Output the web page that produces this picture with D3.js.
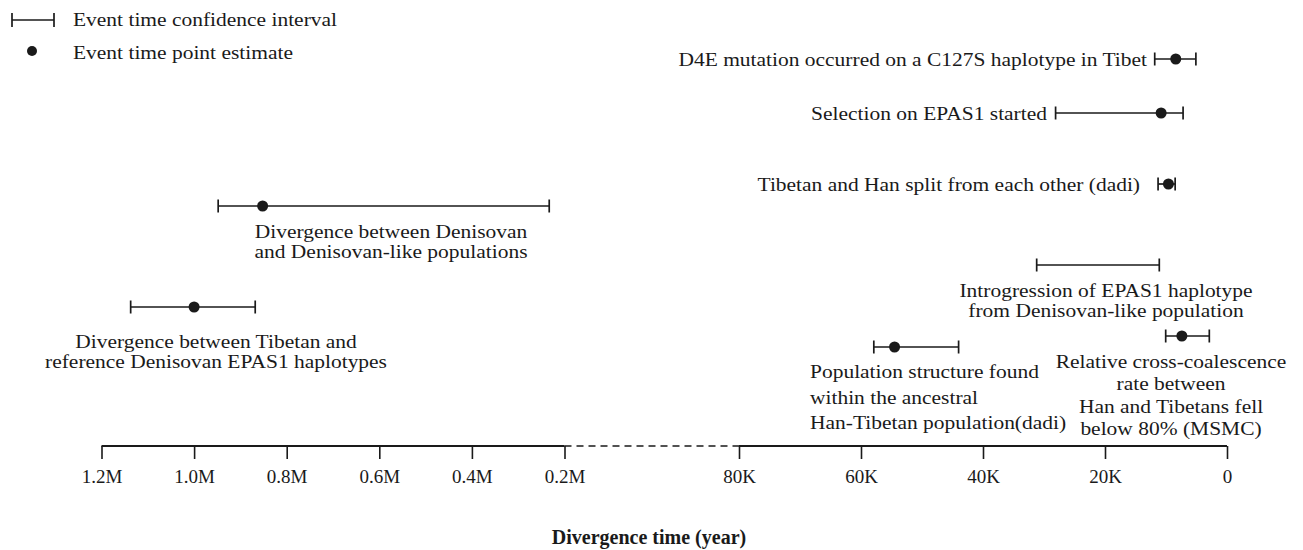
<!DOCTYPE html>
<html>
<head>
<meta charset="utf-8">
<script src="https://cdn.jsdelivr.net/npm/d3@7"></script>
<style>
  html, body { margin: 0; padding: 0; background: #fff; }
  svg { display: block; }
  text { font-family: "Liberation Serif", "Times New Roman", serif; fill: #1a1a1a; }
</style>
</head>
<body>
<svg id="chart" width="1303" height="550"></svg>
<script>
// ---------- data ----------
const eventNames = [
  "D4E mutation occurred on a C127S haplotype in Tibet",
  "Selection on EPAS1 started",
  "Tibetan and Han split from each other (dadi)",
  "Divergence between Denisovan and Denisovan-like populations",
  "Introgression of EPAS1 haplotype from Denisovan-like population",
  "Divergence between Tibetan and reference Denisovan EPAS1 haplotypes",
  "Relative cross-coalescence rate between Han and Tibetans fell below 80% (MSMC)",
  "Population structure found within the ancestral Han-Tibetan population(dadi)"
];
const eventLow   = [5100, 7200, 8500, 233000, 11100, 868000, 2900, 44000];    // years (recent end)
const eventHigh  = [11850, 28100, 11300, 948000, 31200, 1137000, 10050, 57900]; // years (old end)
const eventPoint = [8400, 10800, 9600, 852000, null, 1000000, 7400, 54500];
const tickValues = [1200000, 1000000, 800000, 600000, 400000, 200000, 80000, 60000, 40000, 20000, 0];
const tickLabels = ["1.2M", "1.0M", "0.8M", "0.6M", "0.4M", "0.2M", "80K", "60K", "40K", "20K", "0"];
const axisTitle = "Divergence time (year)";
const legendLabels = ["Event time confidence interval", "Event time point estimate"];

// ---------- layout (not data) ----------
const labelLines = [
  ["D4E mutation occurred on a C127S haplotype in Tibet"],
  ["Selection on EPAS1 started"],
  ["Tibetan and Han split from each other (dadi)"],
  ["Divergence between Denisovan", "and Denisovan-like populations"],
  ["Introgression of EPAS1 haplotype", "from Denisovan-like population"],
  ["Divergence between Tibetan and", "reference Denisovan EPAS1 haplotypes"],
  ["Relative cross-coalescence", "rate between", "Han and Tibetans fell", "below 80% (MSMC)"],
  ["Population structure found", "within the ancestral", "Han-Tibetan population(dadi)"]
];
const rowY = [59, 113, 184, 206, 265, 307, 336, 347];
const labelPos = [
  {x: 1147, y: 66, anchor: "end", lh: 0},
  {x: 1047, y: 120, anchor: "end", lh: 0},
  {x: 1140, y: 191, anchor: "end", lh: 0},
  {x: 391, y: 238, anchor: "middle", lh: 20},
  {x: 1106, y: 297, anchor: "middle", lh: 20},
  {x: 216, y: 348, anchor: "middle", lh: 20},
  {x: 1171, y: 368, anchor: "middle", lh: 22.3},
  {x: 810, y: 378, anchor: "start", lh: 25.5}
];
const labelFont = 19;   // px, drawn with a slight horizontal stretch like the scan
const stretch = 1.13;

const svg = d3.select("#chart");
const axisY = 446;
const ink = "#1a1a1a";

function addText(parent, tx, ty, anchor, str, size, sx) {
  return parent.append("text")
    .attr("transform", `translate(${tx},${ty}) scale(${sx},1)`)
    .attr("text-anchor", anchor)
    .style("font-size", size + "px")
    .text(str);
}

// piecewise scale with a break between 0.2M and 80K
const x = d3.scaleLinear()
  .domain([1200000, 200000, 80000, 0])
  .range([101.5, 564.5, 739, 1227]);

// ---------- axis ----------
const axis = d3.axisBottom(x)
  .tickValues(tickValues)
  .tickFormat((d, i) => tickLabels[i])
  .tickSize(13)
  .tickSizeOuter(0)
  .tickPadding(11);

const gAxis = svg.append("g").attr("transform", `translate(0,${axisY})`).call(axis);
gAxis.attr("font-family", null).attr("font-size", null);
gAxis.select(".domain").remove();
gAxis.selectAll(".tick line").attr("stroke", ink).attr("stroke-width", 1.6);
gAxis.selectAll(".tick text")
  .style("font-family", '"Liberation Serif", "Times New Roman", serif')
  .style("font-size", "19px").attr("fill", ink);

svg.append("line").attr("x1", x(1200000)).attr("x2", x(200000))
  .attr("y1", axisY).attr("y2", axisY).attr("stroke", ink).attr("stroke-width", 1.8);
svg.append("line").attr("x1", x(200000)).attr("x2", x(80000))
  .attr("y1", axisY).attr("y2", axisY).attr("stroke", ink).attr("stroke-width", 1.5)
  .attr("stroke-dasharray", "7,5");
svg.append("line").attr("x1", x(80000)).attr("x2", x(0))
  .attr("y1", axisY).attr("y2", axisY).attr("stroke", ink).attr("stroke-width", 1.8);

svg.append("text").attr("x", 649).attr("y", 544)
  .attr("text-anchor", "middle").style("font-weight", "bold").style("font-size", "20px")
  .text(axisTitle);

// ---------- events ----------
const capH = 6.5;
const events = eventNames.map((n, i) => ({name: n, lo: eventLow[i], hi: eventHigh[i], pt: eventPoint[i], i}));
const g = svg.append("g");
events.forEach(e => {
  const y = rowY[e.i];
  g.append("line").attr("x1", x(e.hi)).attr("x2", x(e.lo)).attr("y1", y).attr("y2", y)
    .attr("stroke", ink).attr("stroke-width", 1.7);
  [e.hi, e.lo].forEach(v => g.append("line").attr("x1", x(v)).attr("x2", x(v))
    .attr("y1", y - capH).attr("y2", y + capH).attr("stroke", ink).attr("stroke-width", 1.7));
  if (e.pt != null) g.append("circle").attr("cx", x(e.pt)).attr("cy", y).attr("r", 5.5).attr("fill", ink);
  const lp = labelPos[e.i];
  labelLines[e.i].forEach((ln, k) =>
    addText(g, lp.x, lp.y + k * lp.lh, lp.anchor, ln, labelFont, stretch));
});

// ---------- legend ----------
const lg = svg.append("g");
lg.append("line").attr("x1", 12).attr("x2", 54).attr("y1", 20).attr("y2", 20).attr("stroke", ink).attr("stroke-width", 1.7);
[12, 54].forEach(v => lg.append("line").attr("x1", v).attr("x2", v).attr("y1", 13).attr("y2", 27).attr("stroke", ink).attr("stroke-width", 1.7));
lg.append("circle").attr("cx", 32).attr("cy", 51).attr("r", 5).attr("fill", ink);
legendLabels.forEach((l, i) => addText(lg, 73, 26 + i * 33, "start", l, labelFont, stretch));
</script>
</body>
</html>
